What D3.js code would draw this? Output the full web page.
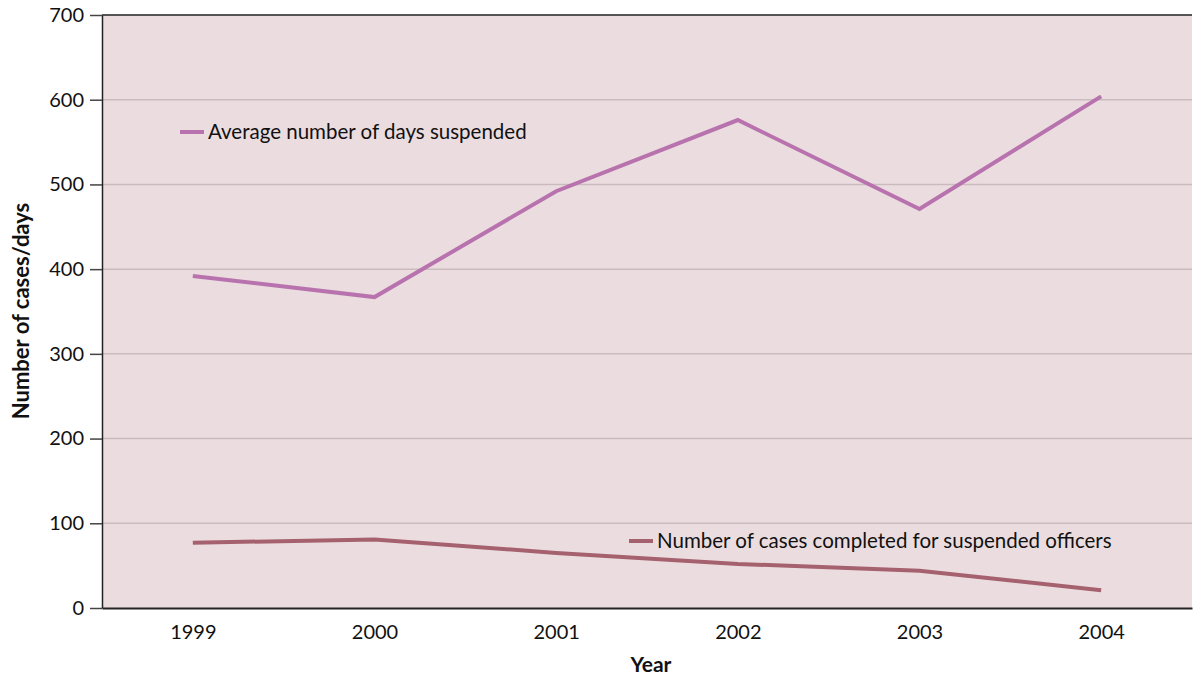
<!DOCTYPE html>
<html>
<head>
<meta charset="utf-8">
<script src="https://cdn.jsdelivr.net/npm/d3@7"></script>
<style>
  body { margin: 0; background: #fff; }
  text { font-family: Lato, "Open Sans", sans-serif; fill: #111; }
</style>
</head>
<body>
<div id="chart"></div>
<script>
// data
var years = ["1999", "2000", "2001", "2002", "2003", "2004"];
var avgDays = [392, 367, 492, 576, 471, 604];
var casesCompleted = [77, 81, 65, 52, 44, 21];
var yTicks = [0, 100, 200, 300, 400, 500, 600, 700];

// set the dimensions and margins of the graph
var margin = { top: 15, right: 1, bottom: 68, left: 102 },
    width = 1193 - margin.left - margin.right,
    height = 676 - margin.top - margin.bottom;

var svg = d3.select("#chart")
    .append("svg")
    .attr("width", width + margin.left + margin.right)
    .attr("height", height + margin.top + margin.bottom)
    .append("g")
    .attr("transform", "translate(" + margin.left + "," + margin.top + ")");

var x = d3.scalePoint()
    .domain(years)
    .range([0, width])
    .padding(0.5);

var y = d3.scaleLinear()
    .domain([0, 700])
    .range([height, 0]);

// plot background
svg.append("rect")
    .attr("width", width)
    .attr("height", height)
    .attr("fill", "#ebdddf");

// gridlines
svg.selectAll(".grid").data(yTicks.slice(1, -1))
    .enter().append("line")
    .attr("x1", 0).attr("x2", width)
    .attr("y1", function (d) { return y(d); })
    .attr("y2", function (d) { return y(d); })
    .attr("stroke", "#cbbbbe")
    .attr("stroke-width", 1.5);

// top border
svg.append("line")
    .attr("x1", 0).attr("x2", width)
    .attr("y1", 0).attr("y2", 0)
    .attr("stroke", "#222").attr("stroke-width", 1.5);

// Y axis
var yAxis = svg.append("g")
    .call(d3.axisLeft(y).tickValues(yTicks).tickSize(12).tickPadding(6).tickSizeOuter(0));
yAxis.select(".domain").attr("stroke", "#222").attr("stroke-width", 1.5);
yAxis.selectAll(".tick line").attr("stroke", "#444").attr("stroke-width", 1.5);
yAxis.selectAll("text").attr("font-size", "20px").attr("fill", "#111")
    .style("font-family", "Lato, sans-serif");

// X axis (no tick marks)
var xAxis = svg.append("g")
    .attr("transform", "translate(0," + height + ")")
    .call(d3.axisBottom(x).tickSize(0).tickPadding(17).tickSizeOuter(0));
xAxis.select(".domain").attr("stroke", "#222").attr("stroke-width", 2);
xAxis.selectAll("text").attr("font-size", "20px").attr("fill", "#111")
    .style("font-family", "Lato, sans-serif");

// axis titles
svg.append("text")
    .attr("transform", "rotate(-90)")
    .attr("x", -(311 - margin.top))
    .attr("y", -margin.left + 29)
    .attr("font-size", "22px")
    .attr("font-weight", "bold")
    .style("text-anchor", "middle")
    .text("Number of cases/days");

svg.append("text")
    .attr("x", width / 2 + 4)
    .attr("y", height + 64)
    .attr("font-size", "21px")
    .attr("font-weight", "bold")
    .style("text-anchor", "middle")
    .text("Year");

// lines
var series = [
    { name: "Average number of days suspended", values: avgDays, color: "#b873ae" },
    { name: "Number of cases completed for suspended officers", values: casesCompleted, color: "#a6616f" }
];

var line = d3.line()
    .x(function (d, i) { return x(years[i]); })
    .y(function (d) { return y(d); });

series.forEach(function (s) {
    svg.append("path")
        .datum(s.values)
        .attr("fill", "none")
        .attr("stroke", s.color)
        .attr("stroke-width", 4)
        .attr("d", line);
});

// legends placed inside the plot
var legendPos = [[78, 117], [527, 526]];
series.forEach(function (s, i) {
    var g = svg.append("g")
        .attr("transform", "translate(" + legendPos[i][0] + "," + legendPos[i][1] + ")");
    g.append("line")
        .attr("x1", 0).attr("x2", 24)
        .attr("y1", 0).attr("y2", 0)
        .attr("stroke", s.color).attr("stroke-width", 4);
    g.append("text")
        .attr("x", 28)
        .attr("y", 7)
        .attr("font-size", "20.5px")
        .text(s.name);
});
</script>
</body>
</html>
